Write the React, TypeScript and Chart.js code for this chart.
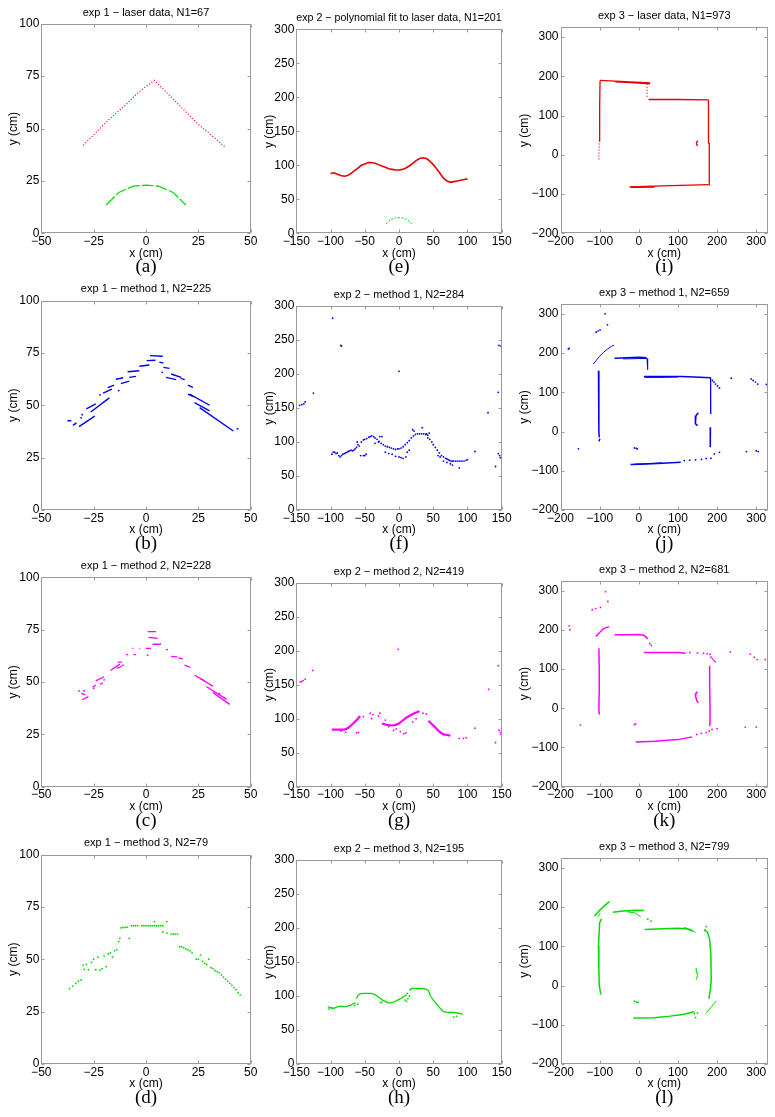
import React, { useEffect, useRef } from "react";
import { Chart, registerables } from "chart.js";

Chart.register(...registerables);

type P = [number, number];

// ---------------- tick labels ----------------
const exp1XTicks = [-50, -25, 0, 25, 50];
const exp1YTicks = [0, 25, 50, 75, 100];
const exp2XTicks = [-150, -100, -50, 0, 50, 100, 150];
const exp2YTicks = [0, 50, 100, 150, 200, 250, 300];
const exp3XTicks = [-200, -100, 0, 100, 200, 300];
const exp3YTicks = [-200, -100, 0, 100, 200, 300];

const exp1XRange: P = [-50, 50];
const exp1YRange: P = [0, 100];
const exp2XRange: P = [-150, 150];
const exp2YRange: P = [0, 300];
const exp3XRange: P = [-200, 330];
const exp3YRange: P = [-200, 325];

// ---------------- (a) exp 1 laser data ----------------
const exp1Laser: P[] = [[-30, 42], [-25, 47], [-17, 55], [-10, 61], [-4, 67], [4, 73], [10, 67], [17, 60], [25, 52], [31, 47], [38, 41]];
const robotArc: P[] = [[-19, 13.5], [-13, 19.5], [-6, 22.5], [0, 23], [6, 22.5], [13, 19.5], [19, 13.5]];

// ---------------- (e) exp 2 polynomial fit ----------------
const exp2Fit: P[] = [[-100, 88], [-95, 89], [-90, 87], [-85, 85], [-80, 84], [-75, 85], [-70, 88], [-65, 92], [-60, 96], [-55, 100], [-50, 102], [-45, 104], [-40, 104], [-35, 103], [-30, 101], [-25, 99], [-20, 97], [-15, 95], [-10, 94], [-5, 93], [0, 93], [5, 94], [10, 96], [15, 99], [20, 103], [25, 107], [30, 110], [35, 111], [40, 110], [45, 106], [50, 101], [55, 95], [60, 88], [65, 81], [70, 77], [75, 75], [80, 76], [85, 77], [90, 78], [95, 79], [100, 80]];

// ---------------- (i) exp 3 laser data ----------------
const exp3LaserSolid: P[][] = [
  [[-101, 35], [-100, 120], [-99, 189]],
  [[-99, 189.5], [-60, 188], [29, 183]],
  [[-60, 186], [-20, 184], [29, 181]],
  [[25, 141], [100, 141], [178, 140]],
  [[178, 140], [178, 28]],
  [[180, 30], [180, -78]],
  [[-24, -82], [60, -79], [178, -76]],
  [[-20, -83], [40, -82]],
  [[151, 36], [148, 33], [147, 29], [148, 26], [151, 23]],
];
const exp3LaserDotted: P[][] = [
  [[-102, -12], [-101, 35]],
  [[21, 181], [21, 147]],
];

// ---------------- (b) exp 1 method 1 ----------------
const exp1M1Dashes: P[][] = [
  [[-37.5, 42.6], [-35.7, 42.6]], [[-34.9, 40.4], [-33.2, 41.6]], [[-32, 39.8], [-24.5, 44.8]],
  [[-28.5, 48.3], [-24, 50.7]], [[-26.4, 46.8], [-17.5, 53.5]], [[-20.5, 55.8], [-16.3, 57.7]],
  [[-18.3, 58.4], [-15.2, 59.6]], [[-14.4, 62.4], [-10.9, 63.1]], [[-12, 60.3], [-8, 61.5]],
  [[-8.8, 66], [-3.2, 66.5]], [[-8, 63.3], [-4.8, 63.8]], [[-3.2, 68.6], [1.6, 69.2]],
  [[0.3, 71.3], [4.5, 71.5]], [[1.9, 73.7], [8, 73.4]], [[6.4, 70.5], [8.3, 70.2]],
  [[8.3, 68.1], [11.2, 67.6]], [[12, 64.9], [16.8, 63.3]], [[9.6, 63.3], [14.4, 62.2]],
  [[16.5, 62.8], [18.5, 62.2]], [[20, 59.6], [22.4, 58.5]], [[20, 55.3], [22.4, 54.2]],
  [[20.8, 55.3], [30.4, 50]], [[23.2, 51.3], [30.4, 47.3]], [[25.6, 48.9], [41.7, 37.7]],
  [[43.3, 38.8], [44.2, 38.7]],
];
const exp1M1Dots: P[] = [[7.7, 65.7], [-31, 44], [-22, 55], [-13, 57], [-30.5, 45.5]];

// ---------------- (f) exp 2 method 1 ----------------
const exp2M1Dots: P[] = [
  [-97, 282], [-85, 242], [-84, 241], [0, 204], [-125, 172], [-145, 154], [-142, 155], [-139, 156], [-137, 159],
  [146, 242], [149, 241], [145, 173], [130, 143], [111, 86], [141, 64], [145, 83], [147, 80], [148, 77], [88, 62],
  [-98, 82], [-96, 85], [-94, 85], [-92, 83], [-90, 84], [-88, 80], [-86, 78], [-84, 80], [-82, 82], [-80, 83],
  [-78, 84], [-76, 85], [-74, 86], [-72, 87], [-70, 88], [-68, 87], [-66, 88], [-64, 90], [-62, 92], [-60, 96],
  [-61, 100], [-58, 94], [-56, 80], [-52, 80], [-50, 80], [-48, 82],
  [-55, 100], [-52, 103], [-50, 104], [-47, 105], [-44, 107], [-42, 108], [-40, 109], [-37, 108], [-35, 106],
  [-32, 104], [-29, 101], [-26, 98], [-23, 96], [-20, 94], [-17, 93], [-14, 92], [-11, 91], [-8, 90], [-5, 89],
  [-2, 90], [0, 90], [3, 91], [6, 93], [9, 96], [12, 99], [15, 102], [18, 106], [21, 109], [24, 111], [27, 112],
  [30, 112], [33, 112], [36, 112], [39, 111], [42, 110],
  [-28, 108], [-25, 108], [-20, 85], [-15, 83], [-10, 82], [-5, 79], [0, 78], [3, 77], [6, 76], [10, 78], [12, 85],
  [15, 88], [-30, 100], [-35, 98], [20, 118], [22, 116], [34, 121], [42, 106], [40, 112], [44, 113],
  [45, 104], [48, 100], [50, 96], [53, 92], [56, 88], [59, 84], [62, 80], [65, 78], [68, 76], [70, 75], [72, 74],
  [74, 73], [76, 72], [78, 72], [80, 72], [83, 72], [86, 72], [89, 72], [92, 72], [95, 72], [98, 73], [100, 74],
  [65, 72], [70, 70], [75, 68], [78, 66], [60, 78], [57, 80],
];

// ---------------- (j) exp 3 method 1 ----------------
const exp3M1Thick: P[][] = [
  [[-103, 155], [-102, 100], [-102, 40], [-102, 0], [-101, -15]],
  [[-62, 187], [-30, 188], [0, 189], [20, 188]],
  [[13, 140], [60, 140], [110, 140], [184, 137]],
  [[183, 11], [183, -20], [182, -40]],
  [[152, 48], [146, 40], [144, 30], [145, 20], [150, 15]],
  [[-21, -84], [20, -83], [60, -81], [107, -78]],
];
const exp3M1Thin: P[][] = [
  [[-116, 172], [-108, 182], [-100, 192], [-90, 202], [-80, 210], [-70, 217], [-63, 220]],
  [[-40, 185], [0, 186], [20, 186]],
  [[21, 186], [22, 172], [23, 158]],
  [[15, 138], [60, 138], [100, 139]],
  [[183, 137], [183, 100], [184, 45]],
  [[-10, -83], [60, -80]],
];
const exp3M1Dots: P[] = [
  [-100, -20], [-101, -23], [188, 130], [192, 126], [196, 121], [201, 116], [206, 111],
  [116, -74], [130, -73], [145, -72], [160, -71], [172, -69], [184, -68], [193, -57], [206, -53],
  [-180, 210], [-178, 212], [-109, 253], [-104, 256], [-99, 259], [-86, 300], [-80, 272],
  [-154, -44], [-11, -42], [-6, -43], [-4, -44], [236, 136], [287, 134], [292, 130], [298, 126], [304, 121],
  [326, 120], [275, -51], [305, -51], [300, -49],
];

// ---------------- (c) exp 1 method 2 ----------------
const exp1M2Dashes: P[][] = [
  [[-30.5, 41.5], [-27.5, 43]], [[-31, 44.5], [-29, 44]], [[-30, 46], [-29, 45.5]], [[-25.5, 47.5], [-24, 48.5]],
  [[-24, 50.5], [-20, 52.5]], [[-22, 49], [-20.5, 49.5]], [[-17, 55.5], [-12.5, 58.5]], [[-14, 56.5], [-11.5, 57.5]],
  [[-13.5, 59.5], [-11.5, 59.5]], [[-9.6, 63], [-8.5, 63]], [[-6, 63], [-4.8, 63]], [[-6.5, 66], [-6, 66]],
  [[-3.2, 66], [-2.8, 66]], [[0, 66], [2.4, 66]], [[0.8, 74], [4.8, 74]], [[1.3, 71.3], [5.6, 70.8]],
  [[3.2, 68], [7.2, 68]], [[9.5, 65.4], [10.5, 65.4]], [[12, 62.2], [15, 62]], [[15.5, 61.5], [17.6, 61]],
  [[18.4, 58], [21.2, 57]], [[23.2, 53.2], [28, 50.5]], [[26, 51.5], [32, 48]], [[28.8, 47.8], [38.5, 41.7]],
  [[32, 44.9], [40, 39.3]],
];
const exp1M2Dots: P[] = [[0.8, 62.8], [-32, 45.7], [-25, 47], [-20, 51], [35, 44.5], [-11, 58]];

// ---------------- (g) exp 2 method 2 ----------------
const exp2M2Streaks: P[][] = [
  [[-98, 84], [-88, 84], [-80, 84], [-75, 86], [-70, 90], [-65, 95], [-60, 100], [-57, 104]],
  [[-25, 93], [-18, 91], [-10, 90], [-5, 91], [0, 93], [5, 97], [10, 101], [15, 104], [20, 107], [25, 109], [30, 111]],
  [[43, 97], [50, 90], [55, 85], [60, 80], [65, 77], [70, 76], [75, 75]],
];
const exp2M2Dots: P[] = [
  [-1, 202], [-126, 171], [-144, 154], [-142, 155], [-140, 156], [-137, 158], [131, 143], [145, 178], [111, 86],
  [141, 65], [146, 83], [148, 80], [149, 77], [88, 71], [94, 71], [98, 72],
  [-59, 80], [-62, 79], [-42, 108], [-38, 106], [-28, 108], [-30, 104], [-8, 83], [-4, 85], [2, 81], [7, 78],
  [10, 79], [-40, 100], [35, 108], [40, 107], [-52, 103], [-85, 82], [-78, 80], [-20, 98], [20, 95], [25, 100], [-15, 88],
];

// ---------------- (k) exp 3 method 2 ----------------
const exp3M2Lines: P[][] = [
  [[-102, 153], [-101, 100], [-101, 50], [-102, 0], [-101, -16]],
  [[-110, 183], [-100, 193], [-90, 203], [-76, 208]],
  [[-62, 187], [-20, 187], [0, 188], [12, 186], [20, 180], [22, 176]],
  [[13, 142], [60, 142], [100, 142], [120, 140]],
  [[181, 108], [181, 50], [182, 0], [182, -35], [181, -46]],
  [[150, 42], [146, 38], [145, 30], [148, 20], [152, 13]],
  [[-8, -86], [40, -84], [100, -80], [136, -73]],
];
const exp3M2Dots: P[] = [
  [28, 165], [32, 160], [130, 142], [150, 141], [165, 140], [175, 139], [182, 137], [184, 130], [188, 126],
  [192, 122], [195, 119], [148, -67], [160, -64], [172, -62], [180, -58], [187, -54], [200, -52],
  [-178, 210], [-176, 200], [-119, 251], [-110, 254], [-98, 257], [-85, 297], [-79, 272], [-149, -43], [-11, -42],
  [-8, -40], [234, 143], [285, 138], [295, 130], [302, 124], [323, 124], [272, -48], [300, -48],
];

// ---------------- (d) exp 1 method 3 ----------------
const exp1M3Dots: P[] = [
  [-36.5, 36], [-35, 37.2], [-33.5, 38.5], [-32.3, 39.5], [-31, 40],
  [-30, 47.2], [-28.5, 47.6], [-29.5, 45.2], [-27.5, 45], [-26, 48.5], [-25, 50], [-24, 45], [-23, 51],
  [-22, 44.8], [-21, 45.5], [-20, 51.5], [-19, 46.5], [-18, 52.5], [-17, 53], [-16, 51], [-15, 54], [-14, 54.5],
  [-13, 58.5], [-12.5, 60], [-12, 65], [-11, 65.2], [-10, 65.2], [-9, 65.3], [-8, 60], [-7, 66], [-6, 66],
  [-5, 66], [-4, 66], [-2, 66], [-1, 66], [0, 66], [1, 66], [2, 66], [3, 66], [4, 66], [5, 66], [6, 66], [7, 66],
  [8, 66], [4, 68], [10, 68], [8, 63], [10, 62.5], [12, 62], [13, 62], [14, 62], [15, 62],
  [16, 56], [17, 56], [18, 55.5], [19, 55], [20, 54.5], [21, 54], [22, 53], [24, 50], [25, 50], [26, 52],
  [27, 49], [28, 48], [29, 47.5], [30, 50], [31, 46], [32, 45.5], [33, 44.5], [34, 44], [35, 43.5], [36, 42.5],
  [37, 41.5], [38, 40.5], [39, 39.5], [40, 38.5], [41, 37.5], [42, 36.5], [43, 35.5], [44, 34], [45, 33],
];

// ---------------- (h) exp 2 method 3 ----------------
const exp2M3Lines: P[][] = [
  [[-104, 84], [-100, 83], [-95, 82], [-90, 84], [-85, 85], [-80, 84], [-75, 85], [-70, 87], [-66, 89], [-63, 90]],
  [[-62, 96], [-60, 101], [-57, 103], [-52, 104], [-46, 104], [-40, 104], [-35, 102], [-32, 100], [-28, 97], [-24, 94],
   [-20, 92], [-16, 90], [-12, 90], [-8, 91], [-4, 93], [0, 95], [4, 97], [8, 100], [11, 102]],
  [[15, 108], [18, 111], [22, 111], [28, 111], [34, 111], [40, 110], [43, 108], [46, 100], [50, 94], [55, 88],
   [60, 82], [65, 77], [70, 76], [75, 76], [80, 76], [85, 75], [90, 74], [93, 73]],
];
const exp2M3Dots: P[] = [
  [-102, 81], [-98, 82], [-65, 86], [-27, 90], [-25, 91], [9, 94], [11, 92], [13, 96], [15, 100], [12, 104],
  [80, 69], [84, 70], [-60, 88],
];

// ---------------- (l) exp 3 method 3 ----------------
const exp3M3Lines: P[][] = [
  [[-95, 170], [-100, 160], [-103, 100], [-102, 40], [-101, 0], [-97, -23]],
  [[-113, 177], [-100, 192], [-88, 203], [-75, 214]],
  [[-66, 187], [-40, 190], [-7, 192], [14, 191]],
  [[15, 143], [60, 145], [100, 146], [120, 145], [138, 139]],
  [[168, 143], [176, 135], [181, 117], [184, 80], [185, 15], [183, -10], [179, -34]],
  [[-14, -83], [40, -82], [80, -78], [112, -74], [142, -67]],
];
const exp3M3Thin: P[][] = [
  [[-105, 175], [-98, 185]],
  [[-30, 188], [-10, 185], [5, 175]],
  [[115, 148], [135, 142], [145, 135]],
  [[172, -70], [185, -55], [197, -40]],
  [[146, 45], [148, 35], [150, 25], [147, 15]],
  [[144, 38], [152, 30]],
];
const exp3M3Dots: P[] = [
  [23, 169], [31, 164], [-11, -40], [-6, -42], [-2, -43], [142, -72], [145, -82], [150, -70], [168, 140], [172, 150],
];

// ---------------- styling ----------------
const RED = "#e60000";
const GREEN = "#00dc00";
const BLUE = "#0000ee";
const MAGENTA = "#ff00ff";
const FRAME = "#9a9a9a";
const SANS = "'Liberation Sans', Arial, Helvetica, sans-serif";
const SERIF = "'Liberation Serif', 'Times New Roman', serif";

interface LineLayer { color: string; lines: P[][]; width: number; dash?: number[] }
interface DotLayer { color: string; pts: P[]; r: number }
interface PanelSpec {
  title: string; label: string;
  xr: P; yr: P; xt: number[]; yt: number[];
  lines: LineLayer[]; dots: DotLayer[];
}

const panels: PanelSpec[] = [
  { title: "exp 1 \u2212 laser data, N1=67", label: "(a)", xr: exp1XRange, yr: exp1YRange, xt: exp1XTicks, yt: exp1YTicks,
    lines: [{ color: RED, lines: [exp1Laser], width: 1.2, dash: [1, 2] }, { color: GREEN, lines: [robotArc], width: 1.2, dash: [12, 2] }], dots: [] },
  { title: "exp 2 \u2212 polynomial fit to laser data, N1=201", label: "(e)", xr: exp2XRange, yr: exp2YRange, xt: exp2XTicks, yt: exp2YTicks,
    lines: [{ color: RED, lines: [exp2Fit], width: 1.6 }, { color: GREEN, lines: [robotArc], width: 1, dash: [2, 1.5] }], dots: [] },
  { title: "exp 3 \u2212 laser data, N1=973", label: "(i)", xr: exp3XRange, yr: exp3YRange, xt: exp3XTicks, yt: exp3YTicks,
    lines: [{ color: RED, lines: exp3LaserSolid, width: 1.3 }, { color: RED, lines: exp3LaserDotted, width: 1.2, dash: [1, 2] }], dots: [] },

  { title: "exp 1 \u2212 method 1, N2=225", label: "(b)", xr: exp1XRange, yr: exp1YRange, xt: exp1XTicks, yt: exp1YTicks,
    lines: [{ color: BLUE, lines: exp1M1Dashes, width: 1.4 }], dots: [{ color: BLUE, pts: exp1M1Dots, r: 0.9 }] },
  { title: "exp 2 \u2212 method 1, N2=284", label: "(f)", xr: exp2XRange, yr: exp2YRange, xt: exp2XTicks, yt: exp2YTicks,
    lines: [], dots: [{ color: BLUE, pts: exp2M1Dots, r: 0.9 }] },
  { title: "exp 3 \u2212 method 1, N2=659", label: "(j)", xr: exp3XRange, yr: exp3YRange, xt: exp3XTicks, yt: exp3YTicks,
    lines: [{ color: BLUE, lines: exp3M1Thick, width: 1.5 }, { color: BLUE, lines: exp3M1Thin, width: 1 }], dots: [{ color: BLUE, pts: exp3M1Dots, r: 0.9 }] },

  { title: "exp 1 \u2212 method 2, N2=228", label: "(c)", xr: exp1XRange, yr: exp1YRange, xt: exp1XTicks, yt: exp1YTicks,
    lines: [{ color: MAGENTA, lines: exp1M2Dashes, width: 1.3 }], dots: [{ color: MAGENTA, pts: exp1M2Dots, r: 0.9 }] },
  { title: "exp 2 \u2212 method 2, N2=419", label: "(g)", xr: exp2XRange, yr: exp2YRange, xt: exp2XTicks, yt: exp2YTicks,
    lines: [{ color: MAGENTA, lines: exp2M2Streaks, width: 2.2 }], dots: [{ color: MAGENTA, pts: exp2M2Dots, r: 0.9 }] },
  { title: "exp 3 \u2212 method 2, N2=681", label: "(k)", xr: exp3XRange, yr: exp3YRange, xt: exp3XTicks, yt: exp3YTicks,
    lines: [{ color: MAGENTA, lines: exp3M2Lines, width: 1.5 }], dots: [{ color: MAGENTA, pts: exp3M2Dots, r: 0.9 }] },

  { title: "exp 1 \u2212 method 3, N2=79", label: "(d)", xr: exp1XRange, yr: exp1YRange, xt: exp1XTicks, yt: exp1YTicks,
    lines: [], dots: [{ color: GREEN, pts: exp1M3Dots, r: 0.9 }] },
  { title: "exp 2 \u2212 method 3, N2=195", label: "(h)", xr: exp2XRange, yr: exp2YRange, xt: exp2XTicks, yt: exp2YTicks,
    lines: [{ color: GREEN, lines: exp2M3Lines, width: 1.3 }], dots: [{ color: GREEN, pts: exp2M3Dots, r: 0.9 }] },
  { title: "exp 3 \u2212 method 3, N2=799", label: "(l)", xr: exp3XRange, yr: exp3YRange, xt: exp3XTicks, yt: exp3YTicks,
    lines: [{ color: GREEN, lines: exp3M3Lines, width: 1.5 }, { color: GREEN, lines: exp3M3Thin, width: 1 }], dots: [{ color: GREEN, pts: exp3M3Dots, r: 0.9 }] },
];

// ---------------- layout (page pixels) ----------------
const COLS = [
  { l: 41.3, r: 250.7, h: 209.5, ytx: 13 },
  { l: 296.3, r: 501.7, h: 204, ytx: 269 },
  { l: 560.5, r: 768, h: 206, ytx: 524 },
];
const ROW_BOTTOMS = [233.3, 510, 786.7, 1064];
const TITLE_FS = 11;
const TITLE_LH = TITLE_FS * 1.2;
const AX_FS = 12;
const AX_LH = AX_FS * 1.2;
const XLAB_OFF = 20;
const LAB_OFF = 34;
const SUB_LH = 10;
const TITLE_GAP = 11.5;

const fmt = (v: number | string) => String(v).replace("-", "\u2212");

const framePlugin = {
  id: "matFrame",
  afterDraw(chart: any) {
    const { ctx, chartArea } = chart;
    const { left, right, top, bottom } = chartArea;
    const xs = chart.scales.x;
    const ys = chart.scales.y;
    const TL = 3;
    ctx.save();
    ctx.strokeStyle = FRAME;
    ctx.lineWidth = 1;
    const L = Math.round(left) + 0.5, R = Math.round(right) - 0.5, T = Math.round(top) + 0.5, B = Math.round(bottom) - 0.5;
    ctx.strokeRect(L, T, R - L, B - T);
    ctx.beginPath();
    for (const t of xs.ticks) {
      const px = Math.round(xs.getPixelForValue(t.value)) + 0.5;
      ctx.moveTo(px, B); ctx.lineTo(px, B - TL);
      ctx.moveTo(px, T); ctx.lineTo(px, T + TL);
    }
    for (const t of ys.ticks) {
      const py = Math.round(ys.getPixelForValue(t.value)) + 0.5;
      ctx.moveTo(L, py); ctx.lineTo(L + TL, py);
      ctx.moveTo(R, py); ctx.lineTo(R - TL, py);
    }
    ctx.stroke();
    ctx.restore();
  },
};

function Panel({ spec, col, row }: { spec: PanelSpec; col: number; row: number }) {
  const ref = useRef<HTMLCanvasElement>(null);
  const c = COLS[col];
  const b = ROW_BOTTOMS[row];
  const t = b - c.h;
  const titleY = t - TITLE_GAP;
  const cl = Math.round(c.ytx - AX_LH / 2);
  const W = c.l - cl;
  const cw = Math.round(c.r + 16 - cl);
  const padR = cw - (c.r - cl);
  const ct = Math.round(titleY - 2 - TITLE_LH / 2);
  const titlePadB = t - ct - 2 - TITLE_LH;
  const H = XLAB_OFF + AX_LH / 2;
  const subPadT = LAB_OFF - H - SUB_LH / 2;
  const ch = Math.round(b + LAB_OFF + 14 - ct);
  const subPadB = ch - (b - ct) - H - subPadT - SUB_LH;

  useEffect(() => {
    if (!ref.current) return;
    const datasets: any[] = [];
    for (const layer of spec.lines) {
      for (const ln of layer.lines) {
        datasets.push({
          data: ln.map(([x, y]) => ({ x, y })),
          showLine: true,
          pointRadius: 0,
          borderColor: layer.color,
          borderWidth: layer.width,
          borderDash: layer.dash || [],
          borderCapStyle: "butt",
          fill: false,
          tension: 0,
        });
      }
    }
    for (const d of spec.dots) {
      datasets.push({
        data: d.pts.map(([x, y]) => ({ x, y })),
        showLine: false,
        pointRadius: d.r,
        pointStyle: "circle",
        pointBackgroundColor: d.color,
        pointBorderColor: d.color,
        pointBorderWidth: 0,
      });
    }
    const tickFont = { family: SANS, size: AX_FS, weight: "normal" as const, lineHeight: 1.2 };
    const chart = new Chart(ref.current, {
      type: "scatter",
      data: { datasets },
      options: {
        responsive: false,
        animation: false,
        devicePixelRatio: 1,
        events: [],
        layout: { padding: { left: 0, top: 0, right: padR, bottom: 0 } },
        plugins: {
          legend: { display: false },
          tooltip: { enabled: false },
          title: {
            display: true, text: spec.title, fullSize: false, color: "#000",
            font: { family: SANS, size: TITLE_FS, weight: "normal", lineHeight: 1.2 },
            padding: { top: 2, bottom: titlePadB },
          },
          subtitle: {
            display: true, position: "bottom", text: spec.label, fullSize: false, color: "#000",
            font: { family: SERIF, size: 19, weight: "normal", lineHeight: SUB_LH + "px" },
            padding: { top: subPadT, bottom: subPadB },
          },
        },
        scales: {
          x: {
            type: "linear", position: "bottom", min: spec.xr[0], max: spec.xr[1],
            grid: { display: false, drawTicks: false }, border: { display: false },
            ticks: { color: "#000", font: tickFont, padding: 1, maxRotation: 0, autoSkip: false, callback: (v: any) => fmt(v) },
            title: { display: true, text: "x (cm)", color: "#000", font: tickFont, padding: 0 },
            afterBuildTicks: (s: any) => { s.ticks = spec.xt.map((v) => ({ value: v })); },
            afterFit: (s: any) => { s.height = H; s.paddingLeft = 0; s.paddingRight = 0; },
          },
          y: {
            type: "linear", position: "left", min: spec.yr[0], max: spec.yr[1],
            grid: { display: false, drawTicks: false }, border: { display: false },
            ticks: { color: "#000", font: tickFont, padding: 2, autoSkip: false, callback: (v: any) => fmt(v) },
            title: { display: true, text: "y (cm)", color: "#000", font: tickFont, padding: 0 },
            afterBuildTicks: (s: any) => { s.ticks = spec.yt.map((v) => ({ value: v })); },
            afterFit: (s: any) => { s.width = W; s.paddingTop = 0; s.paddingBottom = 0; },
          },
        },
      } as any,
      plugins: [framePlugin],
    });
    return () => chart.destroy();
  }, []);

  return (
    <canvas
      ref={ref}
      width={cw}
      height={ch}
      style={{ position: "absolute", left: cl, top: ct, width: cw, height: ch }}
    />
  );
}

export default function App() {
  return (
    <div style={{ position: "absolute", left: 0, top: 0, width: 775, height: 1117, background: "#fff", overflow: "hidden" }}>
      {panels.map((p, i) => (
        <Panel key={i} spec={p} col={i % 3} row={Math.floor(i / 3)} />
      ))}
    </div>
  );
}
